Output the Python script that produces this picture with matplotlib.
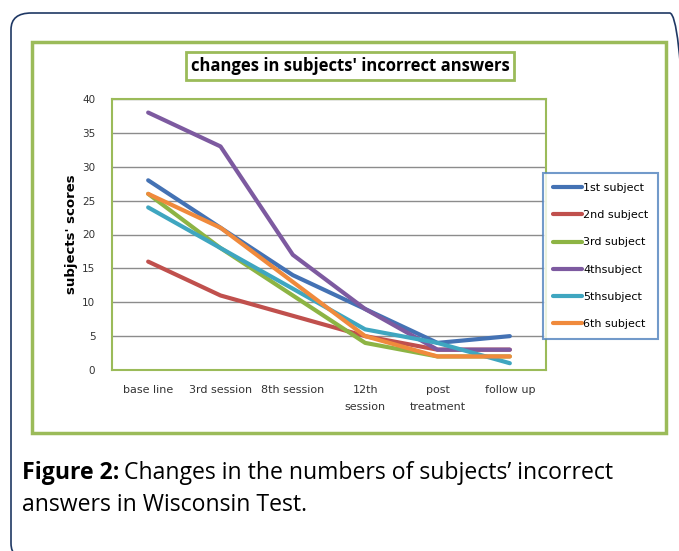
import matplotlib
matplotlib.use("Agg")
import matplotlib.pyplot as plt
from matplotlib.patches import FancyBboxPatch, Rectangle

# 데이터
sessions = ["base line", "3rd session", "8th session", "12th\nsession", "post\ntreatment", "follow up"]
s1 = [28, 21, 14, 9, 4, 5]
s2 = [16, 11, 8, 5, 3, 3]
s3 = [26, 18, 11, 4, 2, 2]
s4 = [38, 33, 17, 9, 3, 3]
s5 = [24, 18, 12, 6, 4, 1]
s6 = [26, 21, 13, 5, 2, 2]
names = ["1st subject", "2nd subject", "3rd subject", "4thsubject", "5thsubject", "6th subject"]
colors = ["#4472B4", "#C0504D", "#8DB444", "#7D5AA0", "#3FA6C0", "#F08A3C"]

W, H = 679, 551
fig = plt.figure(figsize=(W / 100, H / 100), dpi=100)

def fx(x):
    return x / W

def fy(y):
    return 1 - y / H

# 바깥 둥근 테두리
fig.patches.append(FancyBboxPatch((fx(11), fy(560)), fx(690) - fx(11), fy(13) - fy(560),
                                  boxstyle="round,pad=0,rounding_size=0.03",
                                  transform=fig.transFigure, fill=False,
                                  edgecolor="#1F3864", linewidth=1.2))
# 차트 영역 녹색 테두리
fig.patches.append(Rectangle((fx(32), fy(433)), fx(666) - fx(32), fy(42) - fy(433),
                             transform=fig.transFigure, fill=False,
                             edgecolor="#9BBB59", linewidth=2.5))

ax = fig.add_axes([fx(112), fy(370), fx(546) - fx(112), fy(99) - fy(370)])
for vals, name, c in zip([s1, s2, s3, s4, s5, s6], names, colors):
    ax.plot(range(len(sessions)), vals, color=c, linewidth=3, label=name,
            solid_capstyle="round")

ax.set_xlim(-0.5, len(sessions) - 0.5)
ax.set_ylim(0, 40)
ax.set_yticks(range(0, 41, 5))
ax.set_xticks(range(len(sessions)))
ax.set_xticklabels(sessions, fontsize=8, family="DejaVu Sans", color="#333333",
                   linespacing=1.8, va="top")
ax.tick_params(axis="y", labelsize=7.5, length=0, pad=12, labelcolor="#333333")
ax.tick_params(axis="x", length=0, pad=11)
for lbl in ax.get_yticklabels():
    lbl.set_family("DejaVu Sans")
ax.yaxis.grid(True, color="#8C8C8C", linewidth=1)
ax.set_axisbelow(True)
for sp in ax.spines.values():
    sp.set_edgecolor("#9BBB59")
    sp.set_linewidth(1.5)

fig.text(fx(72), fy(234), "subjects' scores", rotation=90, ha="center", va="center",
         fontsize=9.5, fontweight="bold", family="DejaVu Sans")

# 제목 박스
fig.text(fx(350), fy(66), "changes in subjects' incorrect answers", ha="center", va="center",
         fontsize=12, fontweight="bold", family="Open Sans",
         bbox=dict(boxstyle="square,pad=0.3", facecolor="white", edgecolor="#9BBB59",
                   linewidth=2))

leg = ax.legend(loc="upper left", bbox_to_anchor=(fx(543), fy(173)),
                bbox_transform=fig.transFigure, fontsize=8, frameon=True,
                fancybox=False, handlelength=2.6, handletextpad=0.1,
                labelspacing=1.55, borderpad=0.9, borderaxespad=0)
leg.get_frame().set_edgecolor("#4F81BD")
leg.get_frame().set_linewidth(1.5)
for t in leg.get_texts():
    t.set_family("DejaVu Sans")

# 그림 설명
cap1a = fig.text(fx(22), fy(473), "Figure 2:", fontsize=16.6, va="center",
                 family="Open Sans", fontweight="bold")
fig.canvas.draw()
bb = cap1a.get_window_extent()
fig.text(bb.x1 / W + 0.007, fy(473), "Changes in the numbers of subjects\u2019 incorrect",
         fontsize=16.6, va="center", family="Open Sans")
fig.text(fx(22), fy(505), "answers in Wisconsin Test.", fontsize=16.6, va="center",
         family="Open Sans")

fig.savefig("out.png", dpi=100)
